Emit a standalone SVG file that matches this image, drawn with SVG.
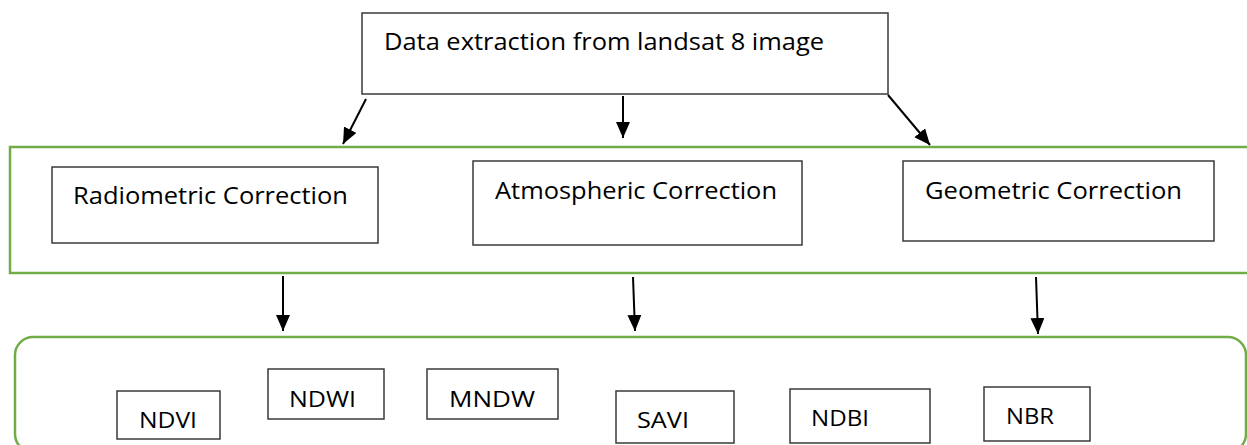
<svg xmlns="http://www.w3.org/2000/svg" width="1247" height="445" viewBox="0 0 1247 445">
<style>
.box{fill:#fff;stroke:#3a3a3a;stroke-width:1.5}
.grp{fill:none;stroke:#70AD47;stroke-width:2.5}
.t{font-family:"Open Sans","Liberation Sans",Arial,sans-serif;font-size:24px;fill:#000}
.s{font-family:"Open Sans","Liberation Sans",Arial,sans-serif;font-size:22px;fill:#000}
.c{stroke:#000;stroke-width:2;fill:none;marker-end:url(#ah)}
</style>
<defs>
<marker id="ah" markerUnits="userSpaceOnUse" markerWidth="17" markerHeight="15" refX="16" refY="7" orient="auto">
<path d="M0,0 L16,7 L0,14 z" fill="#000"/>
</marker>
</defs>
<rect x="0" y="0" width="1247" height="445" fill="#fff"/>
<g id="group-corrections"><rect class="grp" x="10" y="147" width="1260" height="126"/></g>
<g id="group-indices"><rect class="grp" x="15" y="337" width="1231" height="115" rx="18" ry="18"/></g>
<g id="node-data"><rect class="box" x="362" y="13" width="526" height="81"/><text class="t" x="384" y="50" textLength="440" lengthAdjust="spacingAndGlyphs">Data extraction from landsat 8 image</text></g>
<g id="node-radiometric"><rect class="box" x="52" y="167" width="326" height="76"/><text class="t" x="73" y="204" textLength="275" lengthAdjust="spacingAndGlyphs">Radiometric Correction</text></g>
<g id="node-atmospheric"><rect class="box" x="473" y="161" width="329" height="84"/><text class="t" x="495" y="199" textLength="282" lengthAdjust="spacingAndGlyphs">Atmospheric Correction</text></g>
<g id="node-geometric"><rect class="box" x="903" y="161" width="311" height="80"/><text class="t" x="925" y="199" textLength="257" lengthAdjust="spacingAndGlyphs">Geometric Correction</text></g>
<g id="node-ndvi"><rect class="box" x="117" y="391" width="103" height="48"/><text class="s" x="139" y="428" textLength="58" lengthAdjust="spacingAndGlyphs">NDVI</text></g>
<g id="node-ndwi"><rect class="box" x="268" y="369" width="116" height="50"/><text class="s" x="289" y="407" textLength="67" lengthAdjust="spacingAndGlyphs">NDWI</text></g>
<g id="node-mndw"><rect class="box" x="427" y="369" width="131" height="50"/><text class="s" x="449" y="407" textLength="86" lengthAdjust="spacingAndGlyphs">MNDW</text></g>
<g id="node-savi"><rect class="box" x="616" y="391" width="118" height="52"/><text class="s" x="637" y="428" textLength="52" lengthAdjust="spacingAndGlyphs">SAVI</text></g>
<g id="node-ndbi"><rect class="box" x="790" y="389" width="140" height="54"/><text class="s" x="811" y="426" textLength="58" lengthAdjust="spacingAndGlyphs">NDBI</text></g>
<g id="node-nbr"><rect class="box" x="984" y="387" width="106" height="54"/><text class="s" x="1006" y="424" textLength="48" lengthAdjust="spacingAndGlyphs">NBR</text></g>
<g id="connectors">
<line class="c" x1="366" y1="99" x2="343" y2="144"/>
<line class="c" x1="623" y1="96" x2="623" y2="138"/>
<line class="c" x1="888" y1="95" x2="930" y2="145"/>
<line class="c" x1="283" y1="276" x2="283" y2="331"/>
<line class="c" x1="633" y1="277" x2="635" y2="331"/>
<line class="c" x1="1036" y1="277" x2="1038" y2="334"/>
</g>
</svg>
